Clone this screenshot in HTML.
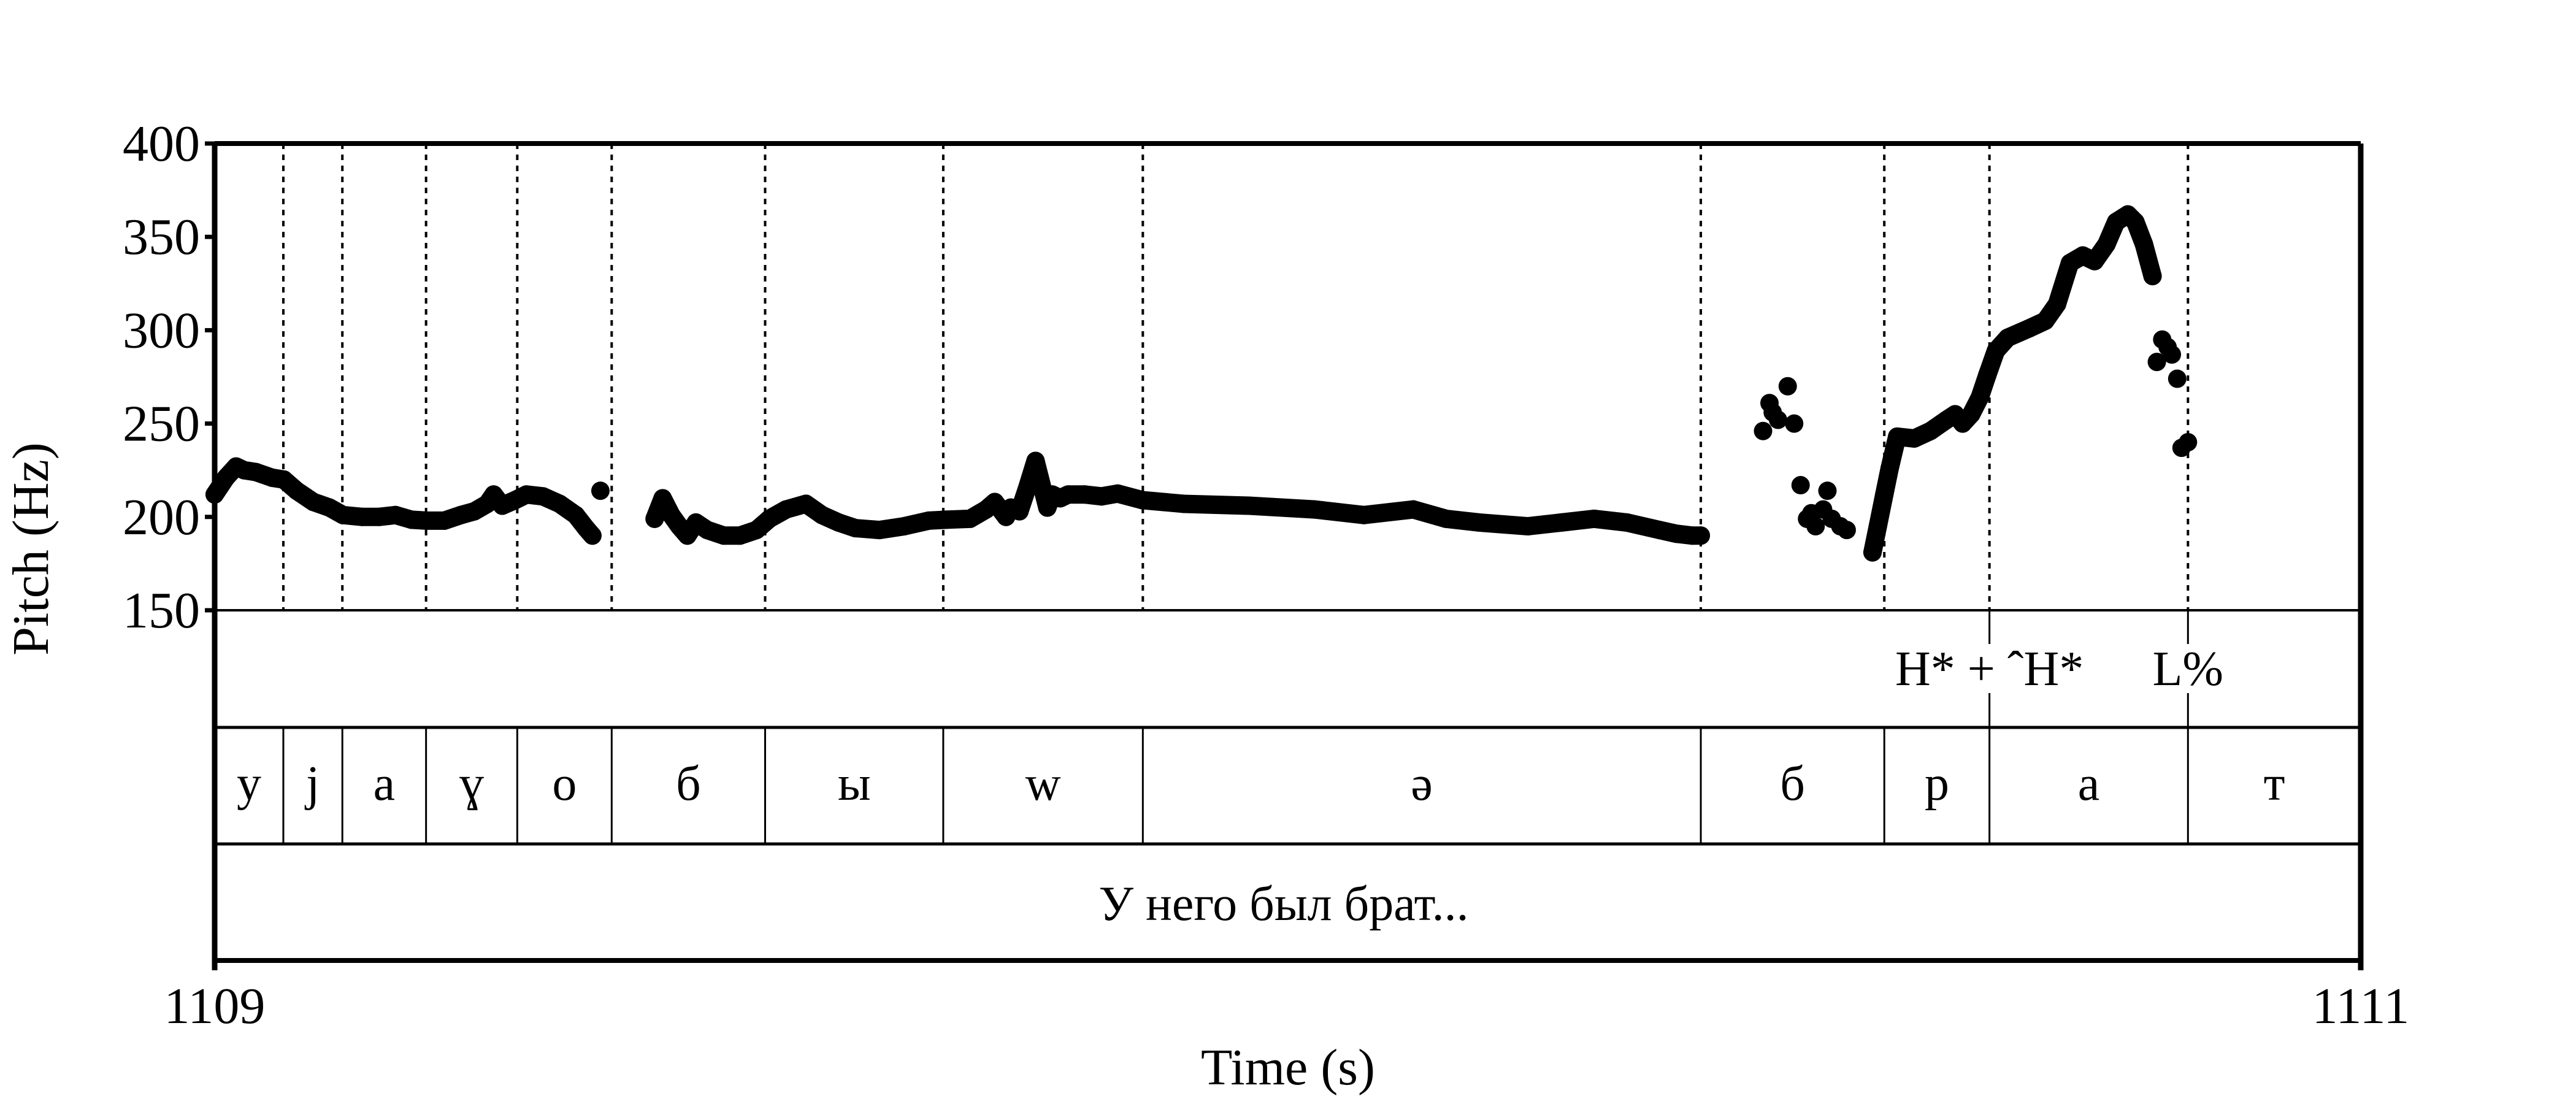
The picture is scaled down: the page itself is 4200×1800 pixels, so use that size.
<!DOCTYPE html>
<html><head><meta charset="utf-8"><style>
html,body{margin:0;padding:0;background:#fff}
svg{display:block}
text{font-family:"Liberation Serif",serif;fill:#000}
</style></head><body>
<svg id="chart" width="4200" height="1800" viewBox="0 0 4200 1800" xmlns="http://www.w3.org/2000/svg">
<g id="marks"></g>
<g id="grid"></g>
<g id="frame"></g>
<g id="labels"></g>
</svg>
<script>
const yTicks=[150,200,250,300,350,400];
const xTickLabels=["1109","1111"];
const boundaries=[0.064,0.119,0.197,0.282,0.370,0.513,0.679,0.865,1.385,1.556,1.654,1.839];
const phonemes=["y","j","a","ɣ","o","б","ы","w","ə","б","р","а","т"];
const tonePoints=[1.654,1.839];
const toneLabels=["H* + ˆH*","L%"];
const sentence="У него был брат...";
// pitch track: time offsets (s from 1109), Hz
const segA_t=[0,.0105,.020,.0275,.0385,.0535,.0645,.0765,.092,.107,.1195,.1375,.153,.1685,.1835,.1975,.214,.2295,.242,.254,.260,.268,.280,.2905,.306,.3215,.3365,.346,.352];
const segA_hz=[212,221,227,225,224,221,220,214,208,205,201,200,200,201,198.5,198,198,201,203,207,212,206,209,212,211,207,201,194,190];
const segB_t=[.3595];
const segB_hz=[214];
const segC_t=[.410,.4175,.4255,.433,.4405,.4485,.459,.4745,.4895,.505,.517,.5325,.551,.566,.5815,.597,.6195,.6425,.6655,.681,.704,.719,.727,.7375,.742,.750,.7575,.765,.776,.7805,.788,.7955,.811,.8265,.8415,.8645,.903,.964,1.025,1.071,1.117,1.1475,1.1785,1.224,1.255,1.2855,1.316,1.3465,1.362,1.377,1.385];
const segC_hz=[199,210,201,195,190,197,193,190,190,193,199,204,207,201,197,194,193,195,198,198.5,199,204,208,200,205,203,216,230,205,212,210,212,212,211,212.5,209,207,206,204,201,204,199,197,195,197,199,197,193,191,190,190];
const scatD_t=[1.443,1.449,1.452,1.457,1.466,1.472,1.478,1.484,1.488,1.492,1.499,1.503,1.507,1.515,1.521];
const scatD_hz=[246,261,256,252,270,250,217,199,202,195,204,214,199,195,193];
const segE_t=[1.545,1.550,1.556,1.561,1.568,1.584,1.599,1.614,1.622,1.629,1.637,1.645,1.652,1.660,1.671,1.691,1.706,1.717,1.729,1.741,1.752,1.763,1.772,1.783,1.790,1.798,1.806];
const segE_hz=[181,195,212,226,243,242,246,252,255,250,255,264,276,289,296,301,305,314,336,340,337,346,358,362,358,346,329];
const scatF_t=[1.810,1.815,1.820,1.824,1.829,1.833,1.839];
const scatF_hz=[283,295,291,287,274,237,240];

const NS="http://www.w3.org/2000/svg";
const X0=350,X1=3849,T0=0,T1=2;
const Y400=234,Y150=995,TIER1=1186,TIER2=1376,BOT=1566;
const xs=t=>X0+(t-T0)/(T1-T0)*(X1-X0);
const ys=h=>Y150+(h-150)/(400-150)*(Y400-Y150);
function mk(tag,attrs,parent){const e=document.createElementNS(NS,tag);for(const k in attrs)e.setAttribute(k,attrs[k]);parent.appendChild(e);return e;}
const marks=document.getElementById('marks'),grid=document.getElementById('grid'),frame=document.getElementById('frame'),labels=document.getElementById('labels');

function drawSeg(T,H,name,connect){
  if(connect&&T.length>1){
    const p=mk('polyline',{points:T.map((t,i)=>xs(t)+','+ys(H[i])).join(' '),fill:'none',stroke:'#000','stroke-width':30,'stroke-linejoin':'round','stroke-linecap':'round'},marks);
    
    
  }
  T.forEach((t,i)=>{const c=mk('circle',{cx:xs(t),cy:ys(H[i]),r:15,fill:'#000'},marks);
    
    });
}
drawSeg(segA_t,segA_hz,'segment-a',true);
drawSeg(segB_t,segB_hz,'segment-b',false);
drawSeg(segC_t,segC_hz,'segment-c',true);
drawSeg(scatD_t,scatD_hz,'segment-d',false);
drawSeg(segE_t,segE_hz,'segment-e',true);
drawSeg(scatF_t,scatF_hz,'segment-f',false);

boundaries.forEach(b=>{const l=mk('line',{x1:xs(b),x2:xs(b),y1:Y400,y2:Y150,stroke:'#000','stroke-width':4,'stroke-dasharray':'9 9'},grid);
  
  });

const fr=[[X0,Y400,X1,Y400,8],[X0,BOT,X1,BOT,8],[X0,Y400,X0,1582,9],[X1,Y400,X1,1582,9],[X0,Y150,X1,Y150,4],[X0,TIER1,X1,TIER1,5],[X0,TIER2,X1,TIER2,5]];
fr.forEach(f=>{const l=mk('line',{x1:f[0],y1:f[1],x2:f[2],y2:f[3],stroke:'#000','stroke-width':f[4]},frame);
  
  });
boundaries.forEach(b=>{const l=mk('line',{x1:xs(b),x2:xs(b),y1:TIER1,y2:TIER2,stroke:'#000','stroke-width':3},frame);
  
  });
tonePoints.forEach(b=>{const l=mk('line',{x1:xs(b),x2:xs(b),y1:Y150,y2:TIER1,stroke:'#000','stroke-width':3},frame);
  
  });

yTicks.forEach(v=>{const y=ys(v);
  const l=mk('line',{x1:334,x2:X0,y1:y,y2:y,stroke:'#000','stroke-width':7},frame);
  
  
  const t=mk('text',{x:326,y:y+28,'text-anchor':'end','font-size':84},labels);t.textContent=v;
  
  });
[X0,X1].forEach((x,i)=>{const t=mk('text',{x:x,y:1668,'text-anchor':'middle','font-size':84},labels);t.textContent=xTickLabels[i];
  
  });
let t=mk('text',{x:0,y:0,'text-anchor':'middle','font-size':84},labels);
t.setAttribute('transform','translate(78,895) rotate(-90)');
t.textContent='Pitch (Hz)';


t=mk('text',{x:2100,y:1768,'text-anchor':'middle','font-size':84},labels);t.textContent='Time (s)';



tonePoints.forEach((b,i)=>{const x=xs(b);
  const w=i===0?300:120;
  const r=mk('rect',{x:x-w/2,y:1050,width:w,height:80,fill:'#fff'},labels);
  
  
  const tx=mk('text',{x:x,y:1117,'text-anchor':'middle','font-size':80},labels);tx.textContent=toneLabels[i];
  
  });
const edges=[0].concat(boundaries,[2]);
phonemes.forEach((p,i)=>{const x=(xs(edges[i])+xs(edges[i+1]))/2;
  const tx=mk('text',{x:x,y:1304,'text-anchor':'middle','font-size':80},labels);tx.textContent=p;
  
  });
t=mk('text',{x:2093,y:1500,'text-anchor':'middle','font-size':80},labels);t.textContent=sentence;


</script>
</body></html>
